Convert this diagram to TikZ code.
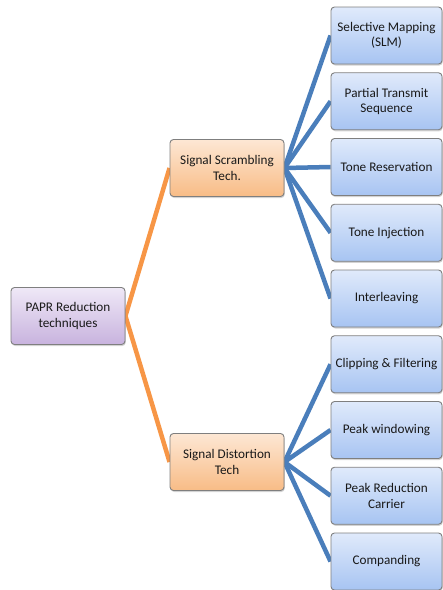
\documentclass[tikz,border=0pt]{standalone}
\usepackage{fontspec}
\setmainfont{Carlito}
\usepackage{tikz}
\usepackage{xcolor}
\usetikzlibrary{shadows,backgrounds}

\definecolor{purpTop}{HTML}{EFE8F7}
\definecolor{purpBot}{HTML}{C8B3DE}
\definecolor{orgTop}{HTML}{FDE7D4}
\definecolor{orgBot}{HTML}{F8BC86}
\definecolor{bluTop}{HTML}{E0EAFB}
\definecolor{bluBot}{HTML}{A7C4F2}
\definecolor{orgLine}{HTML}{F79646}
\definecolor{bluLine}{HTML}{4A7EBB}
\definecolor{edge}{HTML}{7F7F7F}

\begin{document}
\begin{tikzpicture}[x=1pt,y=-1pt,
  box/.style={draw=edge, line width=0.9pt, rounded corners=3.5pt, align=center,
    minimum width=114pt, minimum height=57pt, inner sep=2pt, text=black!90,
    font=\fontsize{13.2}{15.5}\selectfont,
    drop shadow={opacity=0.35, shadow xshift=0.8pt, shadow yshift=-1.5pt}},
  rootbox/.style={box, top color=purpTop, bottom color=purpBot},
  midbox/.style={box, top color=orgTop, bottom color=orgBot},
  leafbox/.style={box, minimum width=111pt, top color=bluTop, bottom color=bluBot}]
                \useasboundingbox (0,0) rectangle (443,590);
                \node[rootbox] (root) at (68,316) {PAPR Reduction\\techniques};
                \node[midbox] (scr) at (227,168) {Signal Scrambling\\Tech.};
                \node[midbox] (dis) at (227,462) {Signal Distortion\\Tech};
                \node[leafbox] (slm) at (386.5,35.5) {Selective Mapping\\(SLM)};
                \node[leafbox] (pts) at (386.5,101.25) {Partial Transmit\\Sequence};
                \node[leafbox] (tr) at (386.5,167) {Tone Reservation};
                \node[leafbox] (ti) at (386.5,232.75) {Tone Injection};
                \node[leafbox] (il) at (386.5,298.5) {Interleaving};
                \node[leafbox] (cf) at (386.5,364.25) {Clipping \& Filtering};
                \node[leafbox] (pw) at (386.5,430) {Peak windowing};
                \node[leafbox] (prc) at (386.5,495.75) {Peak Reduction\\Carrier};
                \node[leafbox] (cmp) at (386.5,561.5) {Companding};
                \begin{scope}[on background layer]
                \draw[orgLine, line width=4.5pt](root.east) -- (scr.west);
                \draw[orgLine, line width=4.5pt](root.east) -- (dis.west);
                \foreach \n in {slm,pts,tr,ti,il}
                    \draw[bluLine, line width=4.5pt](scr.east) -- (\n.west);
                \foreach \n in {cf,pw,prc,cmp}
                    \draw[bluLine, line width=4.5pt](dis.east) -- (\n.west);
                \end{scope}
            \end{tikzpicture}
\end{document}
